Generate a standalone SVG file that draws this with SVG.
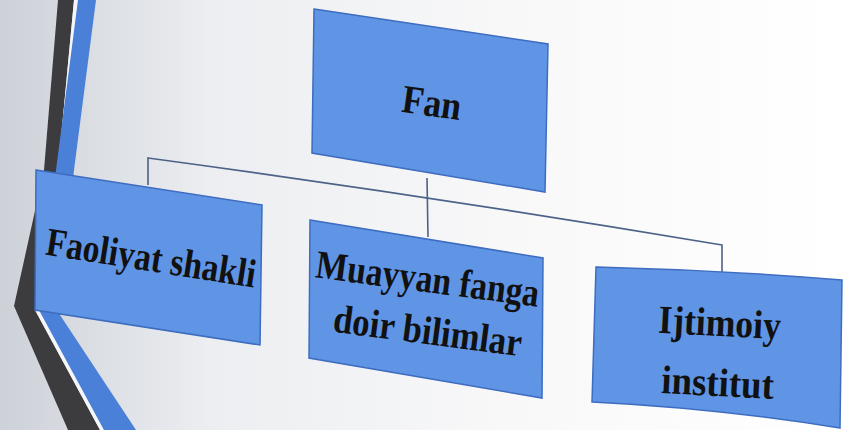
<svg xmlns="http://www.w3.org/2000/svg" width="844" height="430" viewBox="0 0 844 430">
<defs>
<linearGradient id="bg" x1="0" y1="0" x2="1" y2="0">
<stop offset="0" stop-color="#cdd1d8"/>
<stop offset="0.25" stop-color="#eceef1"/>
<stop offset="0.6" stop-color="#f8f8f9"/>
<stop offset="1" stop-color="#ffffff"/>
</linearGradient>
</defs>
<style>
.box{fill:#6095e5;stroke:#3d6cc0;stroke-width:1.5}
.lbl{font-family:"Liberation Serif","Times New Roman",serif;font-weight:bold;font-size:40px;fill:#111;text-anchor:middle}
.con{fill:none;stroke:#4d6288;stroke-width:1.6}
</style>
<rect width="844" height="430" fill="url(#bg)"/>
<g id="decor">
<polygon points="58,0 74,0 58,170 35,310 100,430 68,430 14,306 44,170" fill="#3c3c3e"/>
<polygon points="74,0 78,0 62,170 40,310 104,430 100,430 35,310 58,170" fill="#f4f6fa"/>
<polygon points="78,0 96,0 74,170 60,315 136,430 104,430 40,312 56,170" fill="#4a80d8"/>
</g>
<g id="connectors">
<path class="con" d="M427,178 L428,237"/>
<path class="con" d="M148,185 L148,158 Q430,196 722,245 L722,276"/>
</g>
<g id="n-fan">
<polygon class="box" points="314,9 548,44 545,192 312,153"/>
<text class="lbl" transform="translate(430,116) rotate(8) scale(0.89 1)">Fan</text>
</g>
<g id="n-faoliyat">
<polygon class="box" points="36,170 262,205 260,345 35,310"/>
<text class="lbl" transform="translate(149,271) rotate(9) scale(0.84 1)">Faoliyat shakli</text>
</g>
<g id="n-muayyan">
<polygon class="box" points="310,220 543,258 542,398 309,358"/>
<text class="lbl" transform="translate(426,292) rotate(7.5) scale(0.84 1)">Muayyan fanga</text>
<text class="lbl" transform="translate(426,344) rotate(7.5) scale(0.87 1)">doir bilimlar</text>
</g>
<g id="n-ijtimoiy">
<path class="box" d="M596,267 Q720,270 842,280 L840,428 Q715,408 592,402 Z"/>
<text class="lbl" transform="translate(719,336) rotate(3) scale(0.89 1)">Ijtimoiy</text>
<text class="lbl" transform="translate(717,396) rotate(3) scale(0.92 1)">institut</text>
</g>
</svg>
